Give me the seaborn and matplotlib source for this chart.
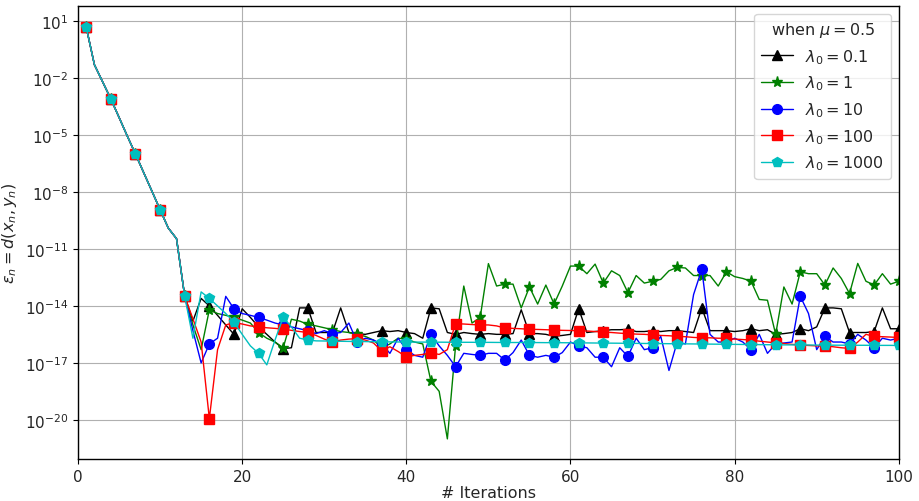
import numpy as np
import pandas as pd
import matplotlib
matplotlib.use("Agg")
import matplotlib.pyplot as plt
import seaborn as sns

# ---------------- data ----------------
iterations = list(range(1, 101))

common_start = [4.8e0, 5.0e-2, 6.3e-3, 7.9e-4, 8.5e-5, 8.9e-6, 1.0e-6, 1.05e-7,
                1.12e-8, 1.17e-9, 1.26e-10, 3.5e-11, 3.2e-14]

black_tail = [1.6e-15, 2.5e-14, 1.0e-14, 3.2e-15, 1.0e-15, 3.2e-16, 7.1e-15, 2.5e-15, 7.9e-16, 3.2e-16,
              1.26e-16, 5.6e-17, 6.3e-17, 7.9e-15, 7.9e-15, 4.0e-16, 4.0e-16, 4.0e-16, 7.9e-15, 4.0e-16,
              3.5e-16, 3.2e-16, 4.0e-16, 5.0e-16, 4.5e-16, 5.0e-16, 4.0e-16, 3.5e-16, 2.0e-16, 7.9e-15,
              7.1e-15, 4.0e-16, 3.2e-16, 4.0e-16, 3.5e-16, 3.2e-16, 3.5e-16, 3.2e-16, 3.2e-16, 3.5e-16,
              6.3e-15, 3.5e-16, 3.5e-16, 3.2e-16, 2.5e-16, 2.8e-16, 3.2e-16, 7.2e-15, 4.0e-16, 4.5e-16,
              5.0e-16, 5.6e-16, 5.6e-16, 5.9e-16, 4.5e-16, 4.5e-16, 5.0e-16, 4.5e-16, 5.0e-16, 5.0e-16,
              4.5e-16, 4.0e-16, 7.9e-15, 5.0e-16, 5.0e-16, 5.0e-16, 4.5e-16, 5.0e-16, 6.3e-16, 5.0e-16,
              5.6e-16, 3.2e-16, 3.5e-16, 4.0e-16, 6.3e-16, 5.0e-16, 7.9e-16, 7.9e-15, 7.9e-15, 7.1e-15,
              4.0e-16, 4.0e-16, 4.0e-16, 4.5e-16, 7.9e-15, 6.3e-16, 6.3e-16]

green_tail = [1.0e-15, 5.0e-17, 6.3e-15, 4.0e-15, 3.2e-15, 2.5e-15, 1.8e-15, 1.26e-15, 4.0e-16, 2.0e-16,
              1.26e-16, 6.3e-17, 2.0e-15, 1.6e-15, 1.07e-15, 8.9e-16, 7.1e-16, 5.6e-16, 4.5e-16, 4.0e-16,
              3.2e-16, 2.5e-16, 1.6e-16, 6.3e-17, 1.0e-16, 2.0e-16, 1.8e-16, 1.26e-16, 1.0e-16, 1.07e-18,
              3.2e-19, 1.0e-21, 7.9e-17, 1.12e-13, 1.26e-15, 2.5e-15, 1.7e-12, 1.12e-13, 1.41e-13, 1.41e-13,
              7.9e-15, 1.0e-13, 1.26e-14, 1.26e-13, 1.26e-14, 1.12e-13, 1.26e-12, 1.26e-12, 5.0e-13, 1.6e-12,
              1.6e-13, 7.1e-13, 4.0e-13, 5.0e-14, 4.0e-13, 1.6e-13, 2.0e-13, 2.5e-13, 7.1e-13, 1.07e-12,
              1.0e-12, 4.0e-13, 4.0e-13, 4.0e-13, 1.12e-13, 6.3e-13, 3.5e-13, 2.8e-13, 2.0e-13, 2.2e-14,
              2.0e-14, 3.2e-16, 1.0e-13, 1.26e-14, 6.3e-13, 5.0e-13, 5.0e-13, 1.26e-13, 1.0e-12, 2.8e-13,
              4.5e-14, 1.74e-12, 2.0e-13, 1.26e-13, 5.0e-13, 1.41e-13, 2.0e-13]

blue_tail = [5.0e-16, 1.0e-17, 1.0e-16, 2.0e-16, 3.2e-14, 7.1e-15, 4.0e-15, 3.2e-15, 2.5e-15, 1.8e-15,
             1.26e-15, 1.0e-15, 7.9e-16, 6.3e-16, 5.0e-16, 3.5e-16, 5.0e-16, 3.5e-16, 4.0e-16, 1.26e-15,
             1.26e-16, 2.0e-16, 1.6e-16, 1.0e-16, 3.2e-17, 2.0e-16, 5.0e-17, 2.5e-17, 2.0e-17, 3.2e-16,
             7.9e-17, 2.5e-17, 6.3e-18, 3.2e-17, 2.8e-17, 2.5e-17, 3.2e-17, 3.2e-17, 1.41e-17, 3.5e-17,
             1.6e-16, 2.5e-17, 2.0e-17, 2.5e-17, 2.0e-17, 3.5e-17, 1.26e-16, 7.9e-17, 6.3e-17, 2.0e-17,
             2.0e-17, 6.3e-18, 6.3e-17, 2.2e-17, 2.0e-16, 5.0e-17, 6.3e-17, 2.5e-16, 4.0e-18, 1.26e-16,
             1.0e-16, 4.0e-14, 8.5e-13, 3.2e-16, 1.26e-16, 1.26e-16, 2.0e-16, 1.26e-16, 5.0e-17, 3.2e-16,
             3.2e-17, 1.0e-16, 1.12e-16, 1.26e-16, 3.2e-14, 4.0e-15, 5.0e-17, 2.5e-16, 1.26e-16, 1.26e-16,
             1.0e-16, 3.2e-16, 1.6e-16, 6.3e-17, 2.0e-16, 1.6e-16, 2.0e-16]

red_tail = [2.1e-15, 1.26e-16, 1.17e-20, 5.0e-17, 1.0e-15, 1.32e-15, 1.12e-15, 8.9e-16, 7.9e-16, 7.1e-16,
            6.6e-16, 6.0e-16, 5.2e-16, 4.5e-16, 4.0e-16, 2.8e-16, 1.8e-16, 1.26e-16, 1.6e-16, 1.8e-16,
            1.9e-16, 1.6e-16, 1.12e-16, 4.3e-17, 7.1e-17, 4.0e-17, 2.1e-17, 2.5e-17, 2.8e-17, 3.4e-17,
            2.8e-17, 5.0e-17, 1.17e-15, 1.12e-15, 1.05e-15, 1.0e-15, 1.0e-15, 8.9e-16, 6.9e-16, 6.6e-16,
            6.3e-16, 5.9e-16, 5.8e-16, 5.6e-16, 5.4e-16, 5.2e-16, 5.1e-16, 5.0e-16, 4.8e-16, 4.5e-16,
            4.2e-16, 4.0e-16, 3.7e-16, 3.5e-16, 3.3e-16, 3.2e-16, 3.0e-16, 2.8e-16, 2.7e-16, 2.5e-16,
            2.4e-16, 2.2e-16, 2.1e-16, 2.1e-16, 2.0e-16, 2.0e-16, 1.8e-16, 1.7e-16, 1.6e-16, 1.4e-16,
            1.26e-16, 1.15e-16, 1.05e-16, 9.5e-17, 8.7e-17, 8.3e-17, 7.9e-17, 7.9e-17, 7.1e-17, 6.3e-17,
            5.8e-17, 1.26e-16, 3.2e-16, 2.5e-16, 2.4e-16, 2.3e-16, 2.2e-16]

cyan_tail = [2.0e-16, 5.5e-14, 2.5e-14, 1.0e-14, 4.0e-15, 1.41e-15, 3.2e-16, 7.9e-17, 3.2e-17, 7.9e-18,
             1.6e-16, 2.5e-15, 7.9e-16, 2.0e-16, 1.6e-16, 1.45e-16, 1.43e-16, 1.4e-16, 1.38e-16, 1.36e-16,
             1.34e-16, 1.33e-16, 1.31e-16, 1.3e-16, 1.28e-16, 1.27e-16, 1.26e-16, 1.25e-16, 1.25e-16, 1.24e-16,
             1.24e-16, 1.23e-16, 1.23e-16, 1.22e-16, 1.22e-16, 1.21e-16, 1.21e-16, 1.2e-16, 1.2e-16, 1.19e-16,
             1.19e-16, 1.18e-16, 1.18e-16, 1.17e-16, 1.17e-16, 1.16e-16, 1.15e-16, 1.14e-16, 1.13e-16, 1.12e-16,
             1.11e-16, 1.1e-16, 1.09e-16, 1.08e-16, 1.07e-16, 1.06e-16, 1.05e-16, 1.04e-16, 1.03e-16, 1.02e-16,
             1.01e-16, 1.0e-16, 9.9e-17, 9.8e-17, 9.7e-17, 9.6e-17, 9.5e-17, 9.4e-17, 9.3e-17, 9.2e-17,
             9.1e-17, 9.0e-17, 8.9e-17, 8.9e-17, 8.8e-17, 8.8e-17, 8.7e-17, 8.7e-17, 8.6e-17, 8.6e-17,
             8.5e-17, 8.5e-17, 8.5e-17, 8.4e-17, 8.4e-17, 8.4e-17, 8.3e-17]

series_labels = [r"$\lambda_0 = 0.1$", r"$\lambda_0 = 1$", r"$\lambda_0 = 10$",
                 r"$\lambda_0 = 100$", r"$\lambda_0 = 1000$"]
series_values = [common_start + black_tail, common_start + green_tail, common_start + blue_tail,
                 common_start + red_tail, common_start + cyan_tail]
series_colors = ["k", "g", "b", "r", "c"]
series_markers = ["^", "*", "o", "s", "p"]

legend_title = r"when $\mu = 0.5$"
x_label = "# Iterations"
y_label = r"$\varepsilon_n = d(x_n, y_n)$"
x_ticks = [0, 20, 40, 60, 80, 100]
y_tick_exponents = [1, -2, -5, -8, -11, -14, -17, -20]

# ---------------- plot ----------------
sns.set_style("ticks")
plt.rcParams["font.family"] = ["DejaVu Sans"]
plt.rcParams["mathtext.fontset"] = "dejavusans"

fig, ax = plt.subplots(figsize=(9.19, 5.02), dpi=100)
fig.subplots_adjust(left=0.0849, right=0.978, top=0.987, bottom=0.084)

for lab, vals, col, mk in zip(series_labels, series_values, series_colors, series_markers):
    df = pd.DataFrame({"it": iterations, "err": vals})
    ms = 8 if mk == "*" else 7
    sns.lineplot(data=df, x="it", y="err", ax=ax, color=col, marker=mk, markevery=3,
                 markersize=ms, markeredgecolor=col, markerfacecolor=col, markeredgewidth=1,
                 linewidth=1.0, label=lab, estimator=None, sort=False)

ax.set_yscale("log")
ax.set_xlim(0, 100)
ax.set_ylim(10 ** -22.05, 10 ** 1.82)
ax.set_xticks(x_ticks)
ax.set_yticks([10.0 ** e for e in y_tick_exponents])
ax.yaxis.set_minor_locator(matplotlib.ticker.NullLocator())
ax.tick_params(axis="both", labelsize=11, direction="out", length=3.5, width=0.8, color="k")
for s in ax.spines.values():
    s.set_visible(True)
    s.set_color("black")
    s.set_linewidth(1.0)
ax.grid(True, which="major", color="#b0b0b0", linewidth=0.8)
ax.set_axisbelow(True)

ax.set_xlabel(x_label, fontsize=11.5, labelpad=1)
ax.set_ylabel(y_label, fontsize=11.5)

leg = ax.legend(title=legend_title, loc="upper right", fontsize=11.5, title_fontsize=11.5,
                frameon=True, framealpha=0.8, edgecolor="#cccccc", fancybox=True)

fig.savefig("out.png", dpi=100)
